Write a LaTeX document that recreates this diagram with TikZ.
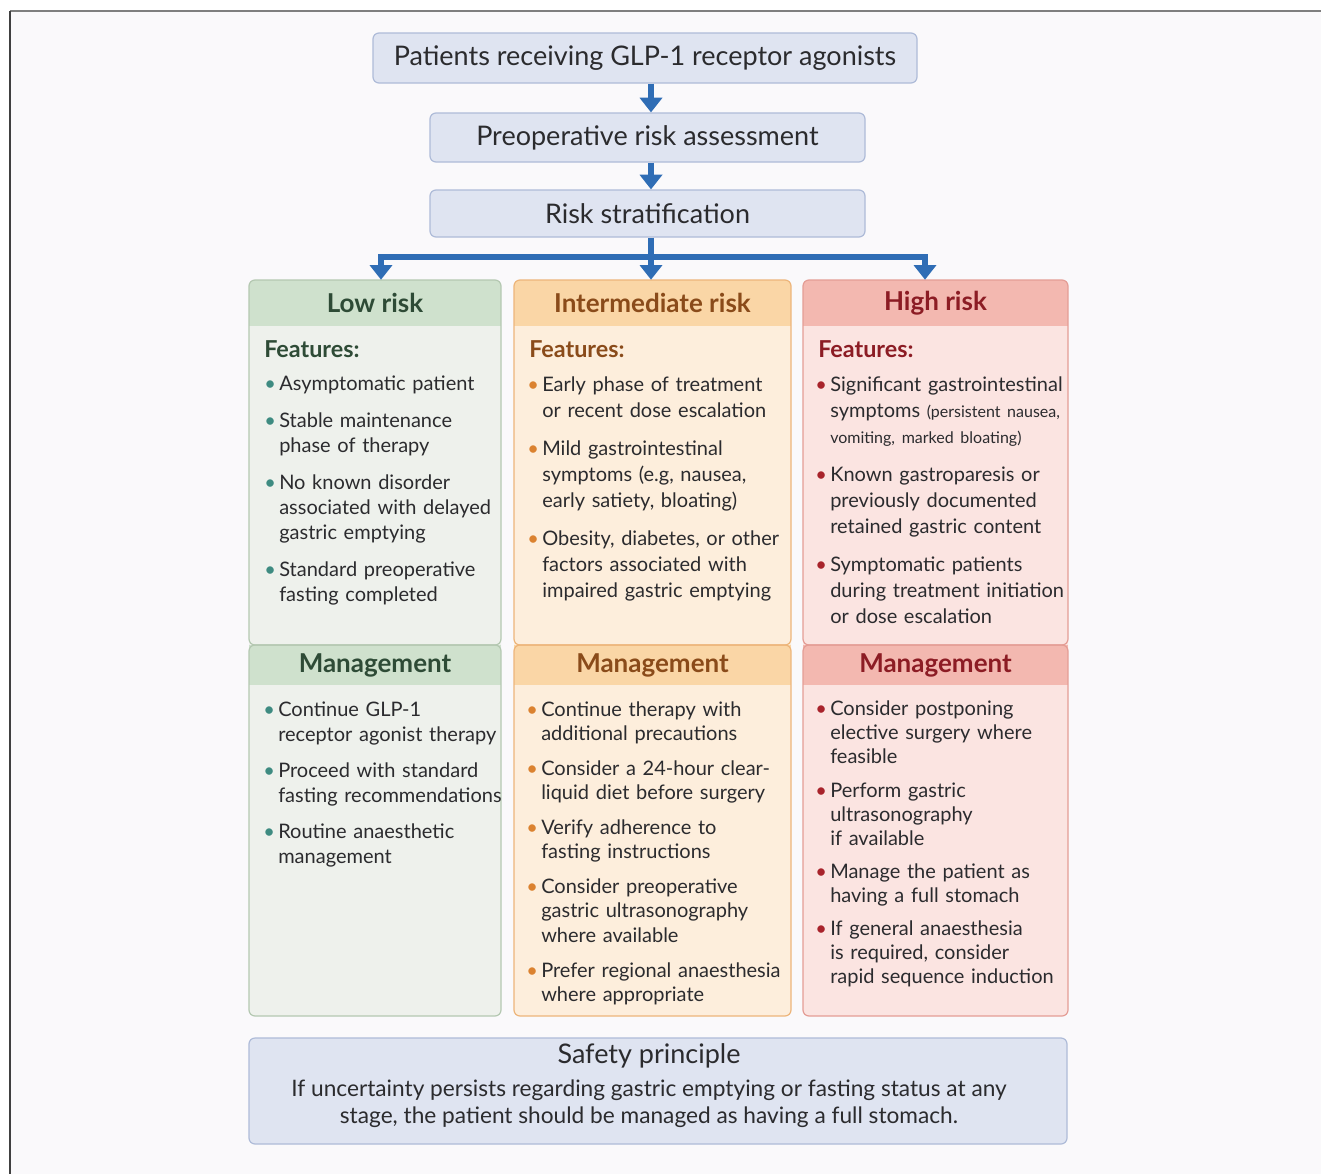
\documentclass[tikz,border=0pt]{standalone}
\usepackage{fontspec}
\setmainfont{Lato}
\usetikzlibrary{arrows.meta}
\usetikzlibrary{positioning}
\usetikzlibrary{calc}

\definecolor{page}{HTML}{FAF9FB}
\definecolor{framegray}{HTML}{7F7F7F}
\definecolor{ink}{HTML}{2B2B2E}
\definecolor{boxfill}{HTML}{DFE4F1}
\definecolor{boxline}{HTML}{AEBBD8}
\definecolor{flowblue}{HTML}{2F6DB5}
\definecolor{lowhead}{HTML}{CFE1CD}
\definecolor{lowbody}{HTML}{EEF1EC}
\definecolor{lowline}{HTML}{B4C8B1}
\definecolor{lowdark}{HTML}{2E4B36}
\definecolor{lowdot}{HTML}{3E8B81}
\definecolor{midhead}{HTML}{FAD6A6}
\definecolor{midbody}{HTML}{FDEEDC}
\definecolor{midline}{HTML}{EDB57A}
\definecolor{middark}{HTML}{8A4B1A}
\definecolor{middot}{HTML}{DB8230}
\definecolor{highhead}{HTML}{F3B8B0}
\definecolor{highbody}{HTML}{FBE4E1}
\definecolor{highline}{HTML}{E49D95}
\definecolor{highdark}{HTML}{8C1C24}
\definecolor{highdot}{HTML}{A8232B}

\newcommand{\bcol}{ink}
\newcommand{\bul}{\par\noindent\hangindent=11.25pt\hangafter=1\makebox[11.25pt][l]{\textcolor{\bcol}{\textbullet}}}

\tikzset{
  topbox/.style={draw=boxline, fill=boxfill, line width=0.9pt, rounded corners=4.5pt,
    inner sep=0pt, text=ink, font=\fontsize{20.25}{24}\selectfont},
  flow/.style={draw=flowblue, line width=4pt, -{Triangle[width=16.5pt,length=11pt]}},
  lst/.style n args={3}{anchor=north west, inner sep=0pt, text width=220pt, align=left,
    text=ink, font=\fontsize{15}{#2}\selectfont,
    execute at begin node={\def\bcol{#1}\setlength{\parskip}{#3}\vskip-\parskip}},
  colhead/.style={inner sep=0pt, font=\fontsize{19.5}{22}\selectfont\bfseries},
}

\begin{document}
\begin{tikzpicture}[x=0.75pt, y=-0.75pt]
    \useasboundingbox (0,0) rectangle (1321,1174);
    \fill[white] (0,0) rectangle (1321,1174);
    \fill[page] (10,11) rectangle (1321,1174);
    \draw[framegray, line width=1.5pt] (10,11) -- (1321,11);
    \draw[black!75, line width=1.5pt] (10,11) -- (10,1174);

    % flow at the top
    \node[topbox, minimum width=408pt, minimum height=37.5pt] (glp) at (645,58)
        {Patients receiving GLP-1 receptor agonists};
    \node[topbox, minimum width=326.25pt, minimum height=36.75pt] (assess) at (647.5,137.5)
        {Preoperative risk assessment};
    \node[topbox, minimum width=326.25pt, minimum height=35.25pt] (strat) at (647.5,213.5)
        {Risk stratification};
    \coordinate (ax) at (651,0);
    \coordinate (bl) at (381,257);
    \coordinate (br) at (925,257);

    % the three columns
    \foreach \c/\xl/\xr/\ttl in {low/249/501/Low risk, mid/514/791/Intermediate risk, high/803/1068/High risk} {
        \fill[\c body, rounded corners=4.5pt] (\xl,280) rectangle (\xr,1016);
        \begin{scope}
            \clip[rounded corners=4.5pt] (\xl,280) rectangle (\xr,1016);
            \fill[\c head] (\xl,280) rectangle (\xr,326);
            \fill[\c head] (\xl,645) rectangle (\xr,685);
        \end{scope}
        \draw[\c line, line width=0.9pt, rounded corners=4.5pt] (\xl,280) rectangle (\xr,645);
        \draw[\c line, line width=0.9pt, rounded corners=4.5pt] (\xl,645) rectangle (\xr,1016);
        \node[colhead, minimum height=34.5pt, text=\c dark] (\c hd) at ({(\xl+\xr)/2},303) {\ttl};
        \node[anchor=west, inner sep=0pt, text=\c dark, font=\fontsize{17.5}{20}\selectfont\bfseries]
            (\c ft) at (\xl+15,349) {Features:};
        \node[colhead, minimum height=30pt, text=\c dark] (\c mg) at ({(\xl+\xr)/2},665) {Management};
    }

    \draw[flow] (glp.south -| ax) -- (assess.north -| ax);
    \draw[flow] (assess.south -| ax) -- (strat.north -| ax);
    \draw[flow] (strat.south -| ax) -- (ax |- midhd.north);
    \draw[flow] (br) -- (bl) -- (bl |- lowhd.north);
    \draw[flow] (bl) -- (br) -- (br |- highhd.north);

    % features
    \node[lst={lowdot}{18.75pt}{9pt}] (lowfeat) at (264,365.5) {%
        \bul Asymptomatic patient
        \bul Stable maintenance\newline phase of therapy
        \bul No known disorder\newline associated with delayed\newline gastric emptying
        \bul Standard preoperative\newline fasting completed\par};
    \node[lst={middot}{19.5pt}{9pt}] (midfeat) at (527,365.5) {%
        \bul Early phase of treatment\newline or recent dose escalation
        \bul Mild gastrointestinal\newline symptoms (e.g, nausea,\newline early satiety, bloating)
        \bul Obesity, diabetes, or other\newline factors associated with\newline impaired gastric emptying\par};
    \node[lst={highdot}{19.5pt}{9pt}] (highfeat) at (815,365.5) {%
        \bul Significant gastrointestinal\newline symptoms {\fontsize{12}{14}\selectfont(persistent nausea,\newline vomiting, marked bloating)}
        \bul Known gastroparesis or\newline previously documented\newline retained gastric content
        \bul Symptomatic patients\newline during treatment initiation\newline or dose escalation\par};

    % management
    \node[lst={lowdot}{18.75pt}{8.25pt}] (lowman) at (263,691.5) {%
        \bul Continue GLP-1\newline receptor agonist therapy
        \bul Proceed with standard\newline fasting recommendations
        \bul Routine anaesthetic\newline management\par};
    \node[lst={middot}{18.2pt}{8pt}] (midman) at (526,691.5) {%
        \bul Continue therapy with\newline additional precautions
        \bul Consider a 24-hour clear-\newline liquid diet before surgery
        \bul Verify adherence to\newline fasting instructions
        \bul Consider preoperative\newline gastric ultrasonography\newline where available
        \bul Prefer regional anaesthesia\newline where appropriate\par};
    \node[lst={highdot}{18pt}{7pt}] (highman) at (815,691.5) {%
        \bul Consider postponing\newline elective surgery where\newline feasible
        \bul Perform gastric\newline ultrasonography\newline if available
        \bul Manage the patient as\newline having a full stomach
        \bul If general anaesthesia\newline is required, consider\newline rapid sequence induction\par};

    % safety principle
    \node[topbox, minimum width=613.5pt, minimum height=79.5pt] (safe) at (658,1091) {};
    \node[text=ink, font=\fontsize{20.25}{24}\selectfont] (safetitle) at (649,1056) {Safety principle};
    \node[text=ink, align=center, font=\fontsize{17}{20.25}\selectfont] (safetext) at (649,1103.5)
        {If uncertainty persists regarding gastric emptying or fasting status at any\\
         stage, the patient should be managed as having a full stomach.};
\end{tikzpicture}
\end{document}
